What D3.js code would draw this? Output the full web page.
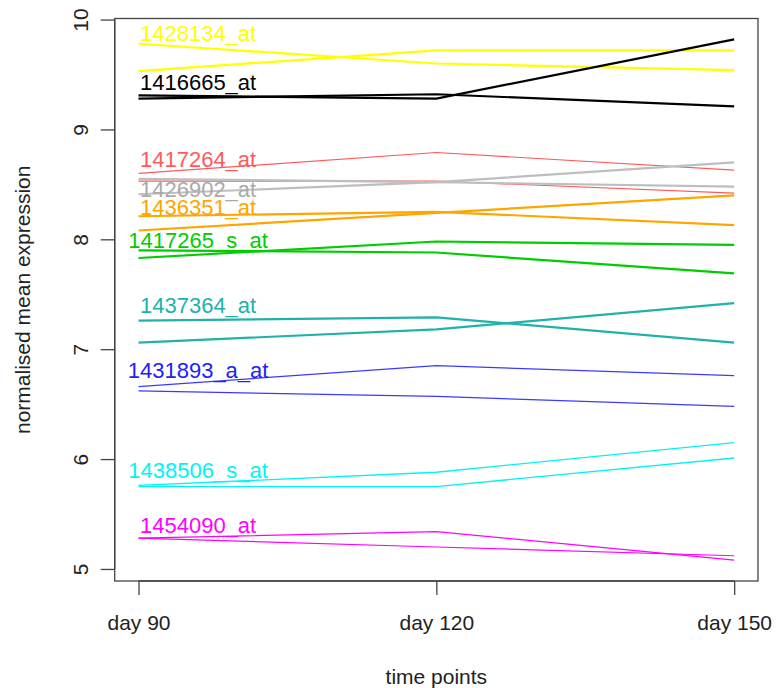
<!DOCTYPE html>
<html>
<head>
<meta charset="utf-8">
<script src="https://cdn.jsdelivr.net/npm/d3@7"></script>
<style>
  html, body { margin: 0; padding: 0; background: #fff; }
  svg { display: block; font-family: "Liberation Sans", Arial, sans-serif; }
</style>
</head>
<body>
<svg id="chart" width="777" height="688"></svg>
<script>
// Time points on the x axis
const timeLabels = ["day 90", "day 120", "day 150"];

// Probe sets, each with two expression profiles (one per group)
const probes = ["1428134_at", "1416665_at", "1417264_at", "1426902_at", "1436351_at",
                "1417265_s_at", "1437364_at", "1431893_a_at", "1438506_s_at", "1454090_at"];

const profileA = [
  [9.78, 9.60, 9.54],
  [9.28, 9.32, 9.21],
  [8.60, 8.79, 8.63],
  [8.55, 8.52, 8.48],
  [8.21, 8.25, 8.13],
  [7.83, 7.98, 7.95],
  [7.26, 7.29, 7.06],
  [6.66, 6.85, 6.76],
  [5.76, 5.88, 6.15],
  [5.28, 5.34, 5.08]
];
const profileB = [
  [9.53, 9.72, 9.72],
  [9.31, 9.28, 9.82],
  [8.53, 8.53, 8.42],
  [8.41, 8.52, 8.70],
  [8.08, 8.24, 8.40],
  [7.90, 7.88, 7.69],
  [7.06, 7.18, 7.42],
  [6.62, 6.57, 6.48],
  [5.75, 5.75, 6.01],
  [5.28, 5.20, 5.12]
];

// Vertical position of each probe label (expression units)
const labelLevel = [9.88, 9.43, 8.73, 8.46, 8.29, 7.99, 7.40, 6.81, 5.90, 5.40];

const yTicks = [5, 6, 7, 8, 9, 10];

// Line colours and widths per probe
const colours = ["#ffff00", "#000000", "#ff5a5a", "#bebebe", "#ffa500",
                 "#00cd00", "#20b2aa", "#3a3aff", "#00f4f4", "#ff00ff"];
const textColours = ["#ffff00", "#000000", "#ff5a5a", "#aaaaaa", "#ffa500",
                     "#00cd00", "#20b2aa", "#2020ff", "#00f4f4", "#ff00ff"];
const widths = [2.2, 2.2, 1.2, 2.2, 2.2, 2.2, 2.2, 1.2, 1.3, 1.2];

const svg = d3.select("#chart");
const box = { left: 114.7, right: 758, top: 18.5, bottom: 581 };

// R-style 4% padding around the data range
const allVals = profileA.flat().concat(profileB.flat());
const [ymin, ymax] = d3.extent(allVals);
const ypad = (ymax - ymin) * 0.04;
const y = d3.scaleLinear().domain([ymin - ypad, ymax + ypad]).range([box.bottom, box.top]);
const x = d3.scaleLinear().domain([1 - 0.08, 3 + 0.08]).range([box.left, box.right]);

const line = d3.line().x((d, i) => x(i + 1)).y(d => y(d));

// Profiles
probes.forEach((p, k) => {
  [profileA[k], profileB[k]].forEach(vals => {
    svg.append("path")
      .attr("d", line(vals))
      .attr("fill", "none")
      .attr("stroke", colours[k])
      .attr("stroke-width", widths[k]);
  });
});

// Probe labels
svg.append("g").selectAll("text").data(probes).join("text")
  .attr("x", x(1.2))
  .attr("y", (d, k) => y(labelLevel[k]))
  .attr("dy", "0.36em")
  .attr("text-anchor", "middle")
  .attr("font-size", 22)
  .attr("fill", (d, k) => textColours[k])
  .text(d => d);

// Plot frame
svg.append("rect")
  .attr("x", box.left).attr("y", box.top)
  .attr("width", box.right - box.left).attr("height", box.bottom - box.top)
  .attr("fill", "none").attr("stroke", "#444").attr("stroke-width", 1.3);

// Y axis (labels rotated, reading upwards)
const yAxis = svg.append("g")
  .attr("transform", `translate(${box.left},0)`)
  .call(d3.axisLeft(y).tickValues(yTicks).tickSize(14).tickFormat(d3.format("d")));
yAxis.select(".domain").attr("d", `M0,${y(5)}V${y(10)}`).attr("stroke", "#444").attr("stroke-width", 1.3);
yAxis.selectAll(".tick line").attr("stroke", "#444").attr("stroke-width", 1.3);
yAxis.selectAll(".tick text")
  .attr("font-size", 21)
  .attr("font-family", "Liberation Sans, Arial, sans-serif")
  .attr("fill", "#222")
  .attr("text-anchor", "middle")
  .attr("x", 0).attr("y", 0).attr("dy", 0)
  .attr("transform", "translate(-27,0) rotate(-90)");

// X axis
const xAxis = svg.append("g")
  .attr("transform", `translate(0,${box.bottom})`)
  .call(d3.axisBottom(x).tickValues([1, 2, 3]).tickSize(14).tickPadding(20)
    .tickFormat((d, i) => timeLabels[i]));
xAxis.select(".domain").attr("d", `M${x(1)},0H${x(3)}`).attr("stroke", "#444").attr("stroke-width", 1.3);
xAxis.selectAll(".tick line").attr("stroke", "#444").attr("stroke-width", 1.3);
xAxis.selectAll(".tick text")
  .attr("font-size", 21)
  .attr("font-family", "Liberation Sans, Arial, sans-serif")
  .attr("fill", "#222");

// Axis titles
svg.append("text")
  .attr("x", x(2)).attr("y", 684)
  .attr("text-anchor", "middle").attr("font-size", 21).attr("fill", "#222")
  .text("time points");
svg.append("text")
  .attr("transform", `translate(30,${(box.top + box.bottom) / 2}) rotate(-90)`)
  .attr("text-anchor", "middle").attr("font-size", 21).attr("fill", "#222")
  .text("normalised mean expression");
</script>
</body>
</html>
